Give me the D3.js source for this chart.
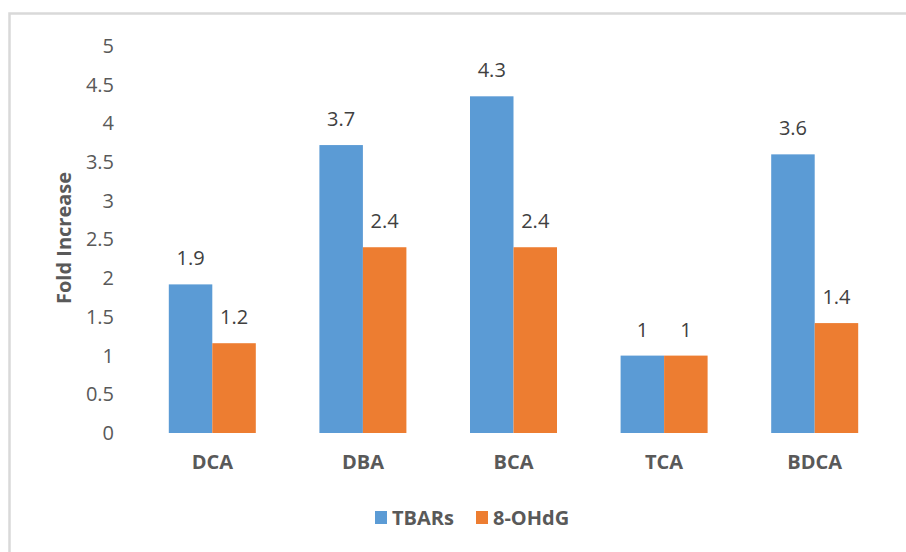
<!DOCTYPE html>
<html lang="en">
<head>
    <meta charset="UTF-8">
    <title>Fold Increase</title>
    <script src="https://d3js.org/d3.v7.min.js"></script>
</head>
<style type="text/css">
    body { margin: 0; background: white; }
    text { font-family: "Open Sans", sans-serif; }
</style>
<body>
<div id="chart"></div>
<script>
    var width = 906;
    var height = 552;

    var categories = ["DCA", "DBA", "BCA", "TCA", "BDCA"];
    var seriesNames = ["TBARs", "8-OHdG"];
    var tbars = [1.92, 3.72, 4.35, 1.0, 3.6];
    var ohdg = [1.16, 2.4, 2.4, 1.0, 1.42];
    var tbarsLabels = ["1.9", "3.7", "4.3", "1", "3.6"];
    var ohdgLabels = ["1.2", "2.4", "2.4", "1", "1.4"];
    var yTicks = [0, 0.5, 1, 1.5, 2, 2.5, 3, 3.5, 4, 4.5, 5];
    var colors = ["#5b9bd5", "#ed7d31"];

    var svg = d3.select("#chart").append("svg")
        .attr("width", width).attr("height", height);

    // outer frame (right and bottom edges fall outside the picture)
    svg.append("rect")
        .attr("x", 9.5).attr("y", 13.5)
        .attr("width", 920).attr("height", 560)
        .style("fill", "none")
        .style("stroke", "#d9d9d9")
        .style("stroke-width", 2.5);

    var x = d3.scaleBand().domain(categories).range([137, 890]);
    var inner = d3.scaleBand().domain(seriesNames).range([0, 87]);
    var y = d3.scaleLinear().domain([0, 5]).range([433, 46]);

    var yAxis = svg.append("g")
        .attr("transform", "translate(114,0)")
        .call(d3.axisLeft(y).tickValues(yTicks).tickSize(0).tickPadding(0)
            .tickFormat(function (d) { return d; }));
    yAxis.select(".domain").remove();
    yAxis.selectAll("text")
        .style("font-family", "'Open Sans', sans-serif")
        .style("font-size", "20px")
        .style("fill", "#595959");

    var xAxis = svg.append("g")
        .attr("transform", "translate(0,455)")
        .call(d3.axisBottom(x).tickSize(0).tickPadding(0));
    xAxis.select(".domain").remove();
    xAxis.selectAll("text")
        .style("font-family", "'Open Sans', sans-serif")
        .style("font-size", "20px")
        .style("font-weight", "bold")
        .style("fill", "#595959");

    svg.append("text")
        .attr("transform", "translate(71,238) rotate(-90)")
        .style("text-anchor", "middle")
        .style("font-size", "20px")
        .style("font-weight", "bold")
        .style("fill", "#595959")
        .text("Fold Increase");

    var series = [
        {name: seriesNames[0], values: tbars, labels: tbarsLabels, color: colors[0]},
        {name: seriesNames[1], values: ohdg, labels: ohdgLabels, color: colors[1]}
    ];

    series.forEach(function (s) {
        var g = svg.append("g");
        var off = x.bandwidth() / 2 - 43.5;
        g.selectAll("rect").data(s.values).enter()
            .append("rect")
            .attr("x", function (d, i) { return x(categories[i]) + off + inner(s.name); })
            .attr("y", function (d) { return y(d); })
            .attr("width", inner.bandwidth())
            .attr("height", function (d) { return y(0) - y(d); })
            .style("fill", s.color);
        g.selectAll("text").data(s.values).enter()
            .append("text")
            .attr("x", function (d, i) { return x(categories[i]) + off + inner(s.name) + inner.bandwidth() / 2; })
            .attr("y", function (d) { return y(d) - 19; })
            .style("text-anchor", "middle")
            .style("font-size", "20px")
            .style("fill", "#404040")
            .text(function (d, i) { return s.labels[i]; });
    });

    var legend = svg.append("g").attr("transform", "translate(375,511)");
    var lx = [0, 101];
    series.forEach(function (s, i) {
        legend.append("rect")
            .attr("x", lx[i]).attr("y", 0)
            .attr("width", 12).attr("height", 13)
            .style("fill", s.color);
        legend.append("text")
            .attr("x", lx[i] + 17).attr("y", 14)
            .style("font-size", "20px")
            .style("font-weight", "bold")
            .style("fill", "#595959")
            .text(s.name);
    });
</script>
</body>
</html>
